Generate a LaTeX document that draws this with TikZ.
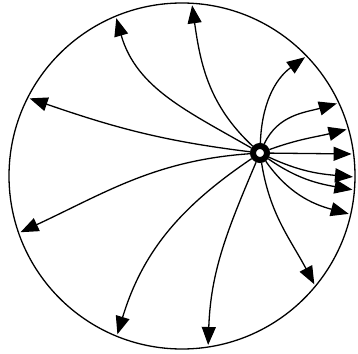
\documentclass[tikz,border=0pt]{standalone}
\usepackage{tikz}
\usetikzlibrary{arrows.meta, calc}

\begin{document}
\begin{tikzpicture}[x=1pt, y=1pt,
    trait/.style={line width=1.3pt},
    ligne/.style={trait, -{Triangle[length=18pt,width=14pt]}}]
  \useasboundingbox (-182,-177) rectangle (176,176);

  % cercle et source
  \draw[trait] (0,0) circle (173);
  \node[circle, draw, line width=6pt, minimum size=14pt, inner sep=0pt] (src) at (78,23) {};

  % points d'arrivee sur le cercle
  \foreach \a/\n in {86.6/1, 112.6/2, 153/3, 199.2/4, 247.8/5, 278.8/6, 320.7/7,
                     44/8, 25.1/9, 15.8/10, 7.4/11, -0.3/12, -4.6/13, -12.8/14}
    \coordinate (t\n) at (\a:171);

  % lignes de champ
  \draw[ligne] (src) to[out=137, in=-82] (t1);
  \draw[ligne] (src) to[out=150, in=-74] (t2);
  \draw[ligne] (src) to[out=173, in=-19] (t3);
  \draw[ligne] (src) to[out=184, in=25] (t4);
  \draw[ligne] (src) to[out=214, in=73] (t5);
  \draw[ligne] (src) to[out=247, in=88] (t6);
  \draw[ligne] (src) to[out=279, in=118] (t7);
  \draw[ligne] (src) to[out=88, in=-144] (t8);
  \draw[ligne] (src) to[out=65, in=196] (t9);
  \draw[ligne] (src) to[out=20, in=194] (t10);
  \draw[ligne] (src) -- (t11);
  \draw[ligne] (src) to[out=-25, in=175] (t12);
  \draw[ligne] (src) to[out=-35, in=170] (t13);
  \draw[ligne] (src) to[out=-55, in=165] (t14);
\end{tikzpicture}
\end{document}
